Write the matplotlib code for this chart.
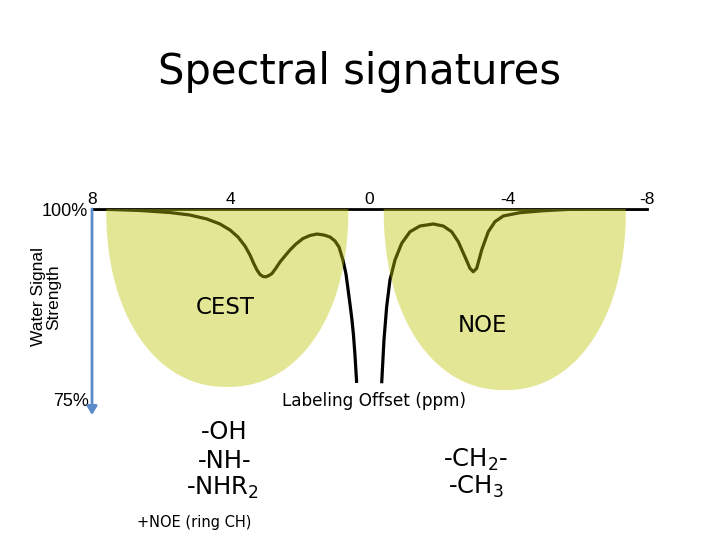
import numpy as np
import matplotlib
matplotlib.use("Agg")
import matplotlib.pyplot as plt
from matplotlib.patches import Polygon, FancyArrowPatch

plt.rcParams["mathtext.default"] = "regular"

# ---- data ----
cest_side_ppm = [8.000, 7.481, 6.616, 5.752, 5.175, 4.685, 4.310, 4.022, 3.791, 3.590, 3.445,
                 3.330, 3.244, 3.157, 3.071, 2.984, 2.898, 2.811, 2.696, 2.581, 2.437, 2.292,
                 2.119, 1.917, 1.716, 1.514, 1.312, 1.139, 0.995, 0.880, 0.765, 0.678, 0.620,
                 0.563, 0.505, 0.462, 0.419, 0.370]
cest_side_signal = [100.00, 99.94, 99.81, 99.55, 99.23, 98.72, 98.09, 97.32, 96.43, 95.28, 94.13,
                    92.98, 92.22, 91.65, 91.39, 91.35, 91.52, 91.77, 92.47, 93.24, 94.01, 94.77,
                    95.54, 96.24, 96.62, 96.81, 96.68, 96.43, 95.92, 95.15, 93.49, 91.71, 89.80,
                    87.88, 85.84, 83.93, 81.38, 77.81]
noe_side_ppm = [-0.351, -0.417, -0.495, -0.590, -0.734, -0.928, -1.167, -1.455, -1.839, -2.127,
                -2.369, -2.559, -2.752, -2.896, -2.991, -3.090, -3.234, -3.424, -3.617, -3.856,
                -4.338, -5.010, -5.779, -6.930, -8.000]
noe_side_signal = [77.77, 83.29, 87.54, 90.94, 93.49, 95.62, 97.10, 97.83, 98.09, 97.83,
                   97.10, 95.83, 93.91, 92.43, 92.00, 92.43, 94.77, 97.10, 98.38, 99.11,
                   99.53, 99.78, 99.96, 100.00, 100.00]

region_names = ["CEST", "NOE"]
region_center_ppm = [4.1, -3.9]
region_halfwidth_ppm = [3.49, 3.49]
region_floor = [77.3, 76.9]

x_ticks = [8, 4, 0, -4, -8]
x_tick_labels = ["8", "4", "0", "-4", "-8"]
y_range = [75, 100]

W, H = 720, 540
fig = plt.figure(figsize=(W / 100, H / 100), dpi=100)
fig.patch.set_facecolor("white")

ax = fig.add_axes([92 / W, (H - 405) / H, (647 - 92) / W, (405 - 209) / H])
ax.set_xlim(8, -8)
ax.set_ylim(y_range[0], y_range[1])
ax.patch.set_alpha(0)

# curve
ax.plot(cest_side_ppm, cest_side_signal, color="black", lw=2.3, solid_capstyle="butt",
        solid_joinstyle="round", zorder=2)
ax.plot(noe_side_ppm, noe_side_signal, color="black", lw=2.3, solid_capstyle="butt",
        solid_joinstyle="round", zorder=2)

# shaded regions (semi-transparent yellow, drawn over the curve)
t = np.linspace(0, np.pi, 300)
n = 2.15
for c, hw, fl in zip(region_center_ppm, region_halfwidth_ppm, region_floor):
    ct, st = np.cos(t), np.sin(t)
    xs = c + hw * np.sign(ct) * np.abs(ct) ** (2 / n)
    ys = 100 - (100 - fl) * np.abs(st) ** (2 / n)
    poly = Polygon(np.column_stack([xs, ys]), closed=True, facecolor=(190 / 255, 196 / 255, 0),
                   alpha=0.42, edgecolor="none", zorder=3)
    ax.add_patch(poly)

# spines / ticks
for s in ["left", "right", "bottom"]:
    ax.spines[s].set_visible(False)
ax.spines["top"].set_linewidth(2.0)
ax.spines["top"].set_zorder(2)
ax.xaxis.tick_top()
ax.set_xticks(x_ticks)
ax.set_xticklabels(x_tick_labels, fontsize=12.5, family="Liberation Sans")
ax.tick_params(axis="x", length=0, pad=1.5)
ax.set_yticks([])

# blue arrow along the y axis
arr = FancyArrowPatch((92 / W, (H - 209) / H), (92 / W, (H - 415) / H), transform=fig.transFigure,
                      arrowstyle="-|>,head_length=5,head_width=3", color="#5b8bc9", lw=2.0,
                      shrinkA=0, shrinkB=0, zorder=4)
fig.patches.append(arr)

comic = ["DejaVu Sans"]
fig.text(360 / W, 1 - 72 / H, "Spectral signatures", ha="center", va="center", fontsize=30,
         family=comic)
fig.text(88 / W, 1 - 211 / H, "100%", ha="right", va="center", fontsize=13, family="Liberation Sans")
fig.text(89 / W, 1 - 401 / H, "75%", ha="right", va="center", fontsize=13, family="Liberation Sans")
fig.text(46 / W, 1 - 297 / H, "Water Signal\nStrength", ha="center", va="center", rotation=90,
         fontsize=12.5, family="Liberation Sans", linespacing=0.95)
fig.text(374 / W, 1 - 401 / H, "Labeling Offset (ppm)", ha="center", va="center", fontsize=12.2,
         family=comic)
fig.text(225 / W, 1 - 308 / H, region_names[0], ha="center", va="center", fontsize=16.5, family=comic)
fig.text(483 / W, 1 - 326 / H, region_names[1], ha="center", va="center", fontsize=16.5, family=comic)

fig.text(224 / W, 1 - 432 / H, "-OH", ha="center", va="center", fontsize=17.5, family=comic)
fig.text(225 / W, 1 - 461 / H, "-NH-", ha="center", va="center", fontsize=17.5, family=comic)
fig.text(222 / W, 1 - 488 / H, "-NHR$_2$", ha="center", va="center", fontsize=17.5, family=comic)
fig.text(476 / W, 1 - 460 / H, "-CH$_2$-", ha="center", va="center", fontsize=17.5, family=comic)
fig.text(476 / W, 1 - 487 / H, "-CH$_3$", ha="center", va="center", fontsize=17.5, family=comic)
fig.text(194 / W, 1 - 522 / H, "+NOE (ring CH)", ha="center", va="center", fontsize=10.5, family=comic)

fig.savefig("out.png", dpi=100)
